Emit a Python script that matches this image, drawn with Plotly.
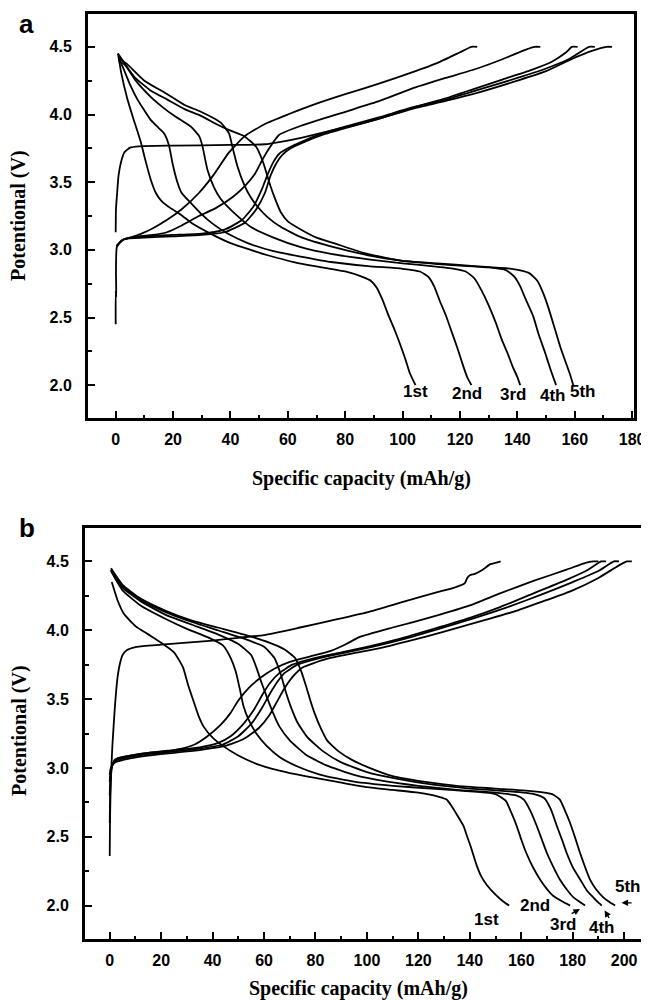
import plotly.graph_objects as go

# ---------------- Panel a data (capacity mAh/g, potential V) ----------------
A_CHG1 = [(0,3.13),(0.1,3.30),(0.5,3.42),(1,3.55),(2,3.66),(3,3.72),(5,3.755),(8,3.765),(20,3.77),
          (40,3.775),(52,3.78),(58,3.80),(65,3.83),(75,3.88),(85,3.93),(95,3.99),(105,4.06),(115,4.12),
          (125,4.19),(135,4.26),(145,4.33),(152,4.39),(157,4.46),(159,4.50),(161,4.50)]
A_CHG2 = [(0,2.45),(0,2.70),(0.2,2.65),(0.1,2.85),(0.4,3.02),(2,3.07),(5,3.09),(9,3.12),(13,3.16),(17.8,3.22),
          (23,3.30),(29,3.42),(34,3.55),(39.5,3.72),(45,3.84),(52,3.93),(60,4.00),(70,4.08),(80,4.15),
          (92,4.23),(103,4.31),(112,4.38),(120,4.46),(124,4.50),(126,4.50)]
A_CHG3 = [(0.3,3.03),(3,3.08),(8,3.10),(13,3.11),(17.8,3.13),(23,3.18),(29,3.25),(35,3.31),(40.8,3.39),
          (45,3.47),(48.5,3.56),(51,3.66),(53.5,3.75),(57,3.85),(65,3.92),(80,4.02),(92,4.10),(103,4.19),
          (115,4.27),(126,4.34),(135,4.41),(143,4.48),(146,4.50),(148,4.50)]
A_CHG4 = [(0.3,3.03),(3,3.08),(10,3.10),(20,3.11),(30,3.12),(38,3.15),(44,3.22),(48,3.32),(51,3.45),
          (53,3.56),(55,3.65),(57,3.71),(60,3.75),(65,3.80),(72,3.86),(80,3.91),(92,3.98),(103,4.05),
          (115,4.11),(126,4.18),(140,4.27),(150,4.34),(158,4.41),(165,4.50),(167,4.50)]
A_CHG5 = [(0.3,3.03),(3,3.08),(10,3.09),(20,3.10),(30,3.11),(38,3.13),(45,3.20),(49,3.30),(52,3.42),
          (54,3.55),(56,3.64),(58,3.70),(61,3.75),(66,3.80),(72,3.85),(80,3.90),(92,3.97),(103,4.04),
          (115,4.10),(126,4.16),(140,4.25),(150,4.32),(160,4.42),(166,4.47),(171,4.50),(173,4.50)]

A_DIS1 = [(0.8,4.45),(2,4.30),(4,4.12),(6,3.98),(8.7,3.80),(10.5,3.65),(12.2,3.52),(14,3.42),(16,3.36),
          (19,3.31),(22.7,3.26),(27,3.19),(33,3.12),(40,3.05),(47,3.00),(53,2.96),(62,2.91),(72,2.87),
          (80,2.84),(86,2.80),(89,2.77),(91,2.72),(93,2.63),(95,2.52),(97,2.42),(99,2.31),(101,2.19),
          (102.5,2.09),(104.5,2.00)]
A_DIS2 = [(1,4.42),(2.9,4.33),(5,4.22),(7.6,4.11),(10,4.03),(12.2,3.96),(15,3.90),(16.9,3.86),(18.6,3.77),
          (19.8,3.64),(21.5,3.50),(23,3.42),(26,3.35),(29.6,3.27),(34,3.19),(39,3.12),(46,3.05),(55,2.99),
          (64.5,2.95),(75,2.91),(88,2.88),(100,2.86),(106,2.84),(109,2.80),(111,2.73),(113,2.62),
          (115,2.52),(117,2.40),(119,2.28),(121,2.15),(122.5,2.06),(124,2.00)]
A_DIS3 = [(1,4.40),(3.5,4.36),(7,4.25),(12.2,4.13),(16,4.06),(20.4,3.99),(26.2,3.91),(29.1,3.84),
          (30.2,3.77),(32,3.59),(34.3,3.46),(36.5,3.38),(39,3.32),(43,3.24),(47,3.17),(55,3.09),(64.5,3.02),
          (75,2.97),(88,2.93),(100,2.90),(110,2.88),(118,2.86),(122,2.84),(125,2.79),(127.5,2.70),
          (130,2.59),(132.5,2.46),(134.5,2.34),(136.5,2.24),(138.5,2.13),(140,2.06),(141,2.00)]
A_DIS4 = [(1,4.42),(4.1,4.37),(10,4.25),(18,4.15),(24,4.07),(29.7,4.02),(36.6,3.94),(39.5,3.86),
          (40.7,3.76),(42.4,3.62),(44.8,3.48),(47,3.39),(49.4,3.32),(53,3.24),(57.5,3.17),(65,3.09),
          (76,3.02),(88,2.96),(99.4,2.92),(115,2.89),(130,2.87),(136,2.85),(139,2.80),(141,2.73),
          (143,2.63),(145.5,2.51),(147.5,2.37),(149.5,2.25),(151.5,2.12),(153.5,2.00)]
A_DIS5 = [(0.8,4.45),(6.4,4.28),(12,4.18),(18,4.11),(24,4.04),(29.7,3.99),(35,3.93),(39,3.89),
          (44.8,3.84),(49,3.76),(51.5,3.64),(53.5,3.50),(55.5,3.38),(57.5,3.28),(60,3.21),(64.5,3.15),
          (70,3.09),(76,3.05),(86,2.98),(99.4,2.92),(112,2.90),(125,2.88),(138,2.86),(144,2.83),
          (147,2.77),(149,2.68),(151,2.56),(153,2.42),(155,2.28),(157,2.16),(158.5,2.07),(159.5,2.00)]

A_LABELS = ["1st", "2nd", "3rd", "4th", "5th"]
A_LABEL_X = [104.5, 122.5, 138.5, 152.3, 163.0]
A_LABEL_Y = [1.95, 1.94, 1.93, 1.92, 1.95]

# ---------------- Panel b data ----------------
B_CHG1 = [(0,2.36),(0.1,2.60),(0.3,2.80),(0.6,2.98),(1.0,3.15),(1.5,3.30),(2.0,3.44),(2.6,3.58),
          (3.2,3.68),(4,3.76),(5,3.82),(6.6,3.855),(10.5,3.88),(20,3.895),(30,3.91),(40,3.925),(50,3.945),
          (60,3.965),(74,4.02),(86,4.07),(100,4.13),(113,4.20),(126,4.27),(134,4.31),(138,4.34),
          (139,4.38),(140,4.40),(142,4.41),(145,4.44),(148,4.48),(150,4.49),(152,4.50)]
B_CHG2 = [(0,2.60),(0.3,2.90),(1,3.02),(3,3.07),(8,3.09),(15,3.11),(22,3.12),(28,3.14),(33,3.17),
          (38,3.23),(43,3.31),(47,3.40),(50,3.49),(54,3.58),(59,3.66),(64,3.72),(70,3.77),(78,3.81),
          (86,3.85),(92,3.90),(97,3.95),(110,4.02),(126,4.10),(140,4.18),(152,4.27),(165,4.36),
          (177.6,4.44),(185,4.49),(188,4.50),(190,4.50)]
B_CHG3 = [(0,2.80),(0.5,2.98),(2,3.06),(8,3.09),(15,3.11),(25,3.13),(35,3.15),(42,3.18),(47,3.23),
          (52,3.32),(56,3.42),(59,3.52),(62,3.61),(66,3.69),(71,3.75),(80,3.80),(90,3.84),(100,3.88),
          (113,3.94),(126,4.01),(140,4.09),(152,4.17),(165,4.27),(178,4.37),(186,4.44),(191,4.50),(193,4.50)]
B_CHG4 = [(0,2.90),(0.5,3.00),(2,3.05),(8,3.08),(15,3.10),(25,3.12),(35,3.14),(44,3.17),(50,3.23),
          (55,3.32),(59,3.43),(62,3.53),(65,3.62),(68,3.69),(73,3.75),(82,3.80),(92,3.84),(102,3.88),
          (115,3.94),(128,4.01),(142,4.09),(155,4.17),(168,4.26),(180,4.35),(190,4.43),(196,4.50),(198,4.50)]
B_CHG5 = [(0,2.95),(0.5,3.00),(2,3.04),(8,3.07),(15,3.09),(25,3.11),(35,3.13),(45,3.16),(52,3.21),
          (58,3.29),(62,3.38),(65,3.48),(68,3.58),(71,3.66),(75,3.73),(84,3.79),(94,3.83),(105,3.87),
          (118,3.93),(130,3.99),(145,4.07),(158,4.14),(170,4.22),(180,4.29),(190,4.38),(197,4.46),
          (201,4.50),(203,4.50)]

B_DIS1 = [(0.8,4.35),(3,4.22),(5.5,4.12),(10,4.03),(15,3.97),(20,3.91),(25,3.84),(28.5,3.73),(30.5,3.60),
          (32.5,3.49),(34.5,3.38),(36.5,3.30),(40,3.22),(44,3.16),(50,3.09),(57,3.03),(66,2.98),(76,2.94),
          (88,2.90),(100,2.86),(110,2.84),(120,2.82),(128,2.79),(131,2.77),(133,2.72),(135,2.66),
          (137.5,2.58),(139,2.50),(140.5,2.42),(142.7,2.29),(144.5,2.21),(146.6,2.15),(150,2.08),
          (153,2.03),(155.3,2.00)]
B_DIS2 = [(0.5,4.43),(5,4.29),(12,4.18),(22,4.08),(30,4.01),(38,3.95),(44,3.89),(47,3.80),(49,3.70),
          (50.5,3.58),(52,3.45),(54,3.35),(57,3.25),(61,3.16),(66,3.08),(73,3.01),(82,2.95),(95,2.90),
          (110,2.87),(125,2.85),(140,2.83),(150,2.81),(154,2.76),(156,2.68),(158.2,2.58),(160,2.48),
          (162,2.38),(164.5,2.28),(167.3,2.19),(170,2.12),(172.5,2.07),(176,2.03),(179,2.00)]
B_DIS3 = [(0.5,4.44),(5,4.31),(12,4.21),(22,4.11),(32,4.04),(42,3.97),(50,3.90),(55,3.82),(57,3.73),
          (59,3.62),(61,3.52),(63.5,3.40),(66,3.30),(70,3.20),(76,3.10),(84,3.02),(95,2.95),(108,2.90),
          (120,2.87),(135,2.84),(150,2.82),(158,2.80),(161,2.77),(163.5,2.69),(166,2.58),(168,2.48),
          (170,2.38),(172.5,2.28),(175,2.19),(178,2.11),(180.3,2.06),(182.5,2.03),(184.8,2.00)]
B_DIS4 = [(0.5,4.44),(5,4.32),(12,4.22),(22,4.13),(32,4.06),(42,4.00),(52,3.94),(60,3.88),(64,3.80),
          (66.5,3.68),(68.5,3.55),(70.5,3.44),(73,3.33),(77,3.22),(83,3.12),(90,3.04),(100,2.97),
          (112,2.92),(125,2.88),(140,2.85),(155,2.83),(165,2.81),(169,2.78),(171.5,2.70),(173.8,2.58),
          (176,2.47),(177.7,2.38),(180,2.28),(182.9,2.19),(185.5,2.11),(188,2.06),(189.5,2.03),(191.3,2.00)]
B_DIS5 = [(0.5,4.45),(5,4.33),(12,4.23),(22,4.14),(32,4.07),(42,4.02),(52,3.97),(62,3.91),(68,3.86),
          (72,3.80),(74.5,3.70),(76.4,3.59),(78,3.49),(79.6,3.40),(82,3.29),(84.5,3.20),(89,3.12),
          (94,3.06),(101,3.00),(110,2.94),(122,2.90),(135,2.87),(150,2.85),(165,2.83),(172,2.81),
          (175,2.77),(177,2.69),(179,2.60),(181,2.49),(182.9,2.38),(184.8,2.28),(186.7,2.19),(189,2.12),
          (191.9,2.06),(194,2.03),(196.5,2.00)]

B_LABELS = ["1st", "2nd", "3rd", "4th", "5th"]
B_LABEL_X = [146.6, 165.4, 176.4, 191.3, 201.5]
B_LABEL_Y = [1.90, 2.00, 1.86, 1.84, 2.14]
# arrows (tail -> head) for 3rd, 4th, 5th labels
B_ARROW_TAIL = [(179.0, 1.935), (194.5, 1.90), (203.5, 2.02)]
B_ARROW_HEAD = [(182.8, 1.975), (192.4, 1.965), (199.0, 2.02)]

X_TICKS_A = [0, 20, 40, 60, 80, 100, 120, 140, 160, 180]
X_TICKS_B = [0, 20, 40, 60, 80, 100, 120, 140, 160, 180, 200]
Y_TICKS = [2.0, 2.5, 3.0, 3.5, 4.0, 4.5]
X_RANGE_A = [-10, 181]
X_RANGE_B = [-10, 208.5]
Y_RANGE = [1.75, 4.75]

X_TITLE = "Specific capacity (mAh/g)"
Y_TITLE = "Potentional (V)"

# ---------------- figure ----------------
W, H = 649, 1000
OFF = 8  # page body margin offset compensation (px)
fig = go.Figure()

def add_curves(curves, xa, ya):
    for c in curves:
        fig.add_trace(go.Scatter(
            x=[p[0] for p in c], y=[p[1] for p in c], mode="lines",
            line=dict(color="black", width=1.8, shape="spline", smoothing=0.5),
            xaxis=xa, yaxis=ya, showlegend=False, hoverinfo="skip"))

add_curves([A_CHG1, A_CHG2, A_CHG3, A_CHG4, A_CHG5, A_DIS1, A_DIS2, A_DIS3, A_DIS4, A_DIS5], "x", "y")
add_curves([B_CHG1, B_CHG2, B_CHG3, B_CHG4, B_CHG5, B_DIS1, B_DIS2, B_DIS3, B_DIS4, B_DIS5], "x2", "y2")

# plot frames as closed line traces along the axis ranges
for xr, xa, ya in ((X_RANGE_A, "x", "y"), (X_RANGE_B, "x2", "y2")):
    fig.add_trace(go.Scatter(
        x=[xr[0], xr[1], xr[1], xr[0], xr[0]], y=[Y_RANGE[0], Y_RANGE[0], Y_RANGE[1], Y_RANGE[1], Y_RANGE[0]],
        mode="lines", line=dict(color="black", width=2), cliponaxis=False,
        xaxis=xa, yaxis=ya, showlegend=False, hoverinfo="skip"))

SANS = "Liberation Sans, Arial, sans-serif"
SERIF = "Liberation Serif, Times New Roman, serif"
tickfont = dict(family=SANS, size=16, color="black")

def xaxis(domain, rng, anchor, ticks):
    return dict(domain=domain, range=rng, anchor=anchor, showline=True, linecolor="black",
                linewidth=2, mirror=True, ticks="inside", ticklen=8, tickwidth=1.5, tickcolor="black",
                tickmode="array", tickvals=ticks, ticktext=["<b>%d</b>" % t for t in ticks],
                showgrid=False, zeroline=False, tickfont=tickfont, ticklabelstandoff=5,
                minor=dict(ticks="inside", ticklen=4, tickwidth=1.5, tickcolor="black",
                           tickmode="array", tickvals=[t + 10 for t in ticks], showgrid=False))

def yaxis(domain, anchor):
    return dict(domain=domain, range=Y_RANGE, anchor=anchor, showline=True, linecolor="black",
                linewidth=2, mirror=True, ticks="inside", ticklen=8, tickwidth=1.5, tickcolor="black",
                tickmode="array", tickvals=Y_TICKS, ticktext=["<b>%.1f</b>" % t for t in Y_TICKS],
                showgrid=False, zeroline=False, tickfont=tickfont, ticklabelstandoff=10,
                minor=dict(ticks="inside", ticklen=5, tickwidth=1.5, tickcolor="black",
                           tickmode="array", tickvals=[t + 0.25 for t in Y_TICKS], showgrid=False))

# boxes in page px (left, right, top, bottom), converted to div px by OFF
A_BOX = (87 - OFF, 635 - OFF, 13 - OFF, 419 - OFF)
B_BOX = (84 - OFF, 646 - OFF, 527 - OFF, 940 - OFF)

fig.update_layout(
    template="none",
    width=W, height=H, margin=dict(l=0, r=0, t=0, b=0),
    paper_bgcolor="white", plot_bgcolor="white",
    xaxis=xaxis([A_BOX[0]/W, A_BOX[1]/W], X_RANGE_A, "y", X_TICKS_A),
    yaxis=yaxis([1 - A_BOX[3]/H, 1 - A_BOX[2]/H], "x"),
    xaxis2=xaxis([B_BOX[0]/W, B_BOX[1]/W], X_RANGE_B, "y2", X_TICKS_B),
    yaxis2=yaxis([1 - B_BOX[3]/H, 1 - B_BOX[2]/H], "x2"),
)

ann = []
lab_font = dict(family=SANS, size=17, color="black")
for t, x, y in zip(A_LABELS, A_LABEL_X, A_LABEL_Y):
    ann.append(dict(x=x, y=y, xref="x", yref="y", text="<b>%s</b>" % t, showarrow=False, font=lab_font))
for t, x, y in zip(B_LABELS, B_LABEL_X, B_LABEL_Y):
    ann.append(dict(x=x, y=y, xref="x2", yref="y2", text="<b>%s</b>" % t, showarrow=False, font=lab_font))
for (tx, ty), (hx, hy) in zip(B_ARROW_TAIL, B_ARROW_HEAD):
    ann.append(dict(x=hx, y=hy, ax=tx, ay=ty, xref="x2", yref="y2", axref="x2", ayref="y2",
                    text="", showarrow=True, arrowhead=2, arrowsize=1, arrowwidth=1.3,
                    arrowcolor="black"))

def pxx(v):
    return (v - OFF) / W

def pyy(v):
    return 1 - (v - OFF) / H

title_font = dict(family=SERIF, size=20, color="black")
ann.append(dict(x=pxx(361), y=pyy(478), xref="paper", yref="paper", xanchor="center", yanchor="middle",
                text="<b>%s</b>" % X_TITLE, showarrow=False, font=title_font))
ann.append(dict(x=pxx(358), y=pyy(988), xref="paper", yref="paper", xanchor="center", yanchor="middle",
                text="<b>%s</b>" % X_TITLE, showarrow=False, font=title_font))
ann.append(dict(x=pxx(19), y=pyy(216), xref="paper", yref="paper", xanchor="center", yanchor="middle",
                text="<b>%s</b>" % Y_TITLE, showarrow=False, font=title_font, textangle=-90))
ann.append(dict(x=pxx(19), y=pyy(731), xref="paper", yref="paper", xanchor="center", yanchor="middle",
                text="<b>%s</b>" % Y_TITLE, showarrow=False, font=title_font, textangle=-90))

panel_font = dict(family=SANS, size=26, color="black")
ann.append(dict(x=pxx(26), y=pyy(24), xref="paper", yref="paper", text="<b>a</b>", showarrow=False,
                xanchor="center", yanchor="middle", font=panel_font))
ann.append(dict(x=pxx(27), y=pyy(528), xref="paper", yref="paper", text="<b>b</b>", showarrow=False,
                xanchor="center", yanchor="middle", font=panel_font))

fig.update_layout(annotations=ann)
fig.write_html("out.html")
